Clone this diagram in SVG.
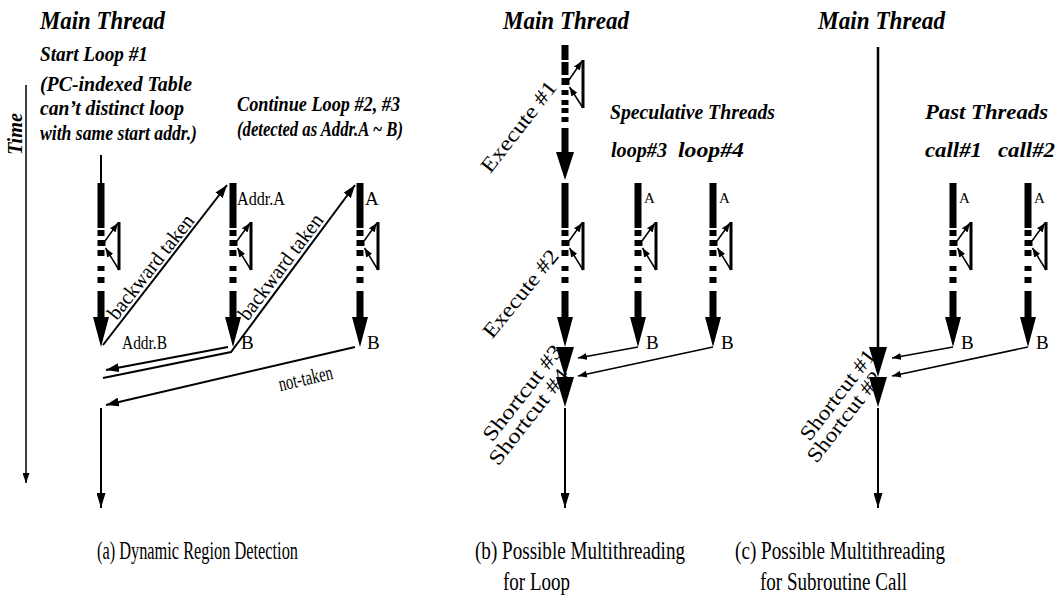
<svg xmlns="http://www.w3.org/2000/svg" xmlns:xlink="http://www.w3.org/1999/xlink" width="1062" height="600" viewBox="0 0 1062 600">
<style>
.t{font-family:"Liberation Serif","Times New Roman",serif;font-weight:bold;font-style:italic;font-size:25px;fill:#000}
.s{font-family:"Liberation Serif","Times New Roman",serif;font-weight:bold;font-style:italic;font-size:22px;fill:#000}
.l{font-family:"Liberation Serif","Times New Roman",serif;font-size:19px;fill:#000}
.la{font-family:"Liberation Serif","Times New Roman",serif;font-size:15px;fill:#000}
.r{font-family:"Liberation Serif","Times New Roman",serif;font-size:21px;fill:#000}
.c{font-family:"Liberation Serif","Times New Roman",serif;font-size:25px;fill:#000}
.big{fill:none;stroke:#000;stroke-width:2}
.sm{fill:none;stroke:#000;stroke-width:1.5}
.bar{fill:#000}
.tri{stroke:#000;stroke-width:3}
</style>
<defs>
<marker id="mBig" markerUnits="userSpaceOnUse" markerWidth="14" markerHeight="9" refX="13" refY="4.5" orient="auto"><path d="M0,0 L13,4.5 L0,9 z" fill="#000"/></marker>
<marker id="mSm" markerUnits="userSpaceOnUse" markerWidth="10" markerHeight="7" refX="9" refY="3.5" orient="auto"><path d="M0,0 L9,3.5 L0,7 z" fill="#000"/></marker>
<marker id="mDown" markerUnits="userSpaceOnUse" markerWidth="16" markerHeight="9" refX="15" refY="4.5" orient="auto"><path d="M0,0 L15,4.5 L0,9 z" fill="#000"/></marker>
<marker id="mTime" markerUnits="userSpaceOnUse" markerWidth="11" markerHeight="7" refX="10" refY="3.5" orient="auto"><path d="M0,0 L10,3.5 L0,7 z" fill="#000"/></marker>
<g id="lt">
<rect class="bar" x="-3.5" y="0" width="7" height="45"/>
<rect class="bar" x="-3.5" y="47" width="7" height="6"/>
<rect class="bar" x="-3.5" y="57" width="8" height="6"/>
<rect class="bar" x="-3.5" y="67" width="7" height="6"/>
<rect class="bar" x="-3.5" y="83" width="7" height="5"/>
<rect class="bar" x="-3.5" y="94" width="7" height="6"/>
<rect class="bar" x="-3.5" y="108" width="7" height="27"/>
<path class="bar" d="M-8,134 L8,134 L0,164 z"/>
<line class="tri" x1="18" y1="39" x2="18" y2="87"/>
<line class="sm" x1="4" y1="58" x2="17" y2="40" marker-end="url(#mSm)"/>
<line class="sm" x1="18" y1="87" x2="4.5" y2="65" marker-end="url(#mSm)"/>
</g>
<path id="tip" class="bar" d="M-9,0 L9,0 L0,30 z"/>
</defs>
<rect width="1062" height="600" fill="#fff"/>

<!-- Panel (a) -->
<g id="time-axis">
<line class="sm" x1="26" y1="85" x2="26" y2="483" marker-end="url(#mTime)"/>
<text class="s" font-size="18" transform="translate(22,134) rotate(-90)" text-anchor="middle" textLength="42" lengthAdjust="spacingAndGlyphs">Time</text>
</g>
<g id="a-title">
<text class="t" x="40" y="29" textLength="125" lengthAdjust="spacingAndGlyphs">Main Thread</text>
<text class="s" x="40" y="61" textLength="108" lengthAdjust="spacingAndGlyphs">Start Loop #1</text>
<text class="s" x="40" y="91" textLength="152" lengthAdjust="spacingAndGlyphs">(PC-indexed Table</text>
<text class="s" x="40" y="115" textLength="144" lengthAdjust="spacingAndGlyphs">can’t distinct loop</text>
<text class="s" x="40" y="140" textLength="157" lengthAdjust="spacingAndGlyphs">with same start addr.)</text>
<text class="s" x="237" y="111" textLength="163" lengthAdjust="spacingAndGlyphs">Continue Loop #2, #3</text>
<text class="s" x="237" y="136" textLength="166" lengthAdjust="spacingAndGlyphs">(detected as Addr.A ~ B)</text>
</g>
<g id="a-thread1" transform="translate(101,183)"><use xlink:href="#lt" href="#lt"/></g>
<g id="a-thread2" transform="translate(233,183)"><use xlink:href="#lt" href="#lt"/></g>
<g id="a-thread3" transform="translate(360,183)"><use xlink:href="#lt" href="#lt"/></g>
<g id="a-labels">
<text class="l" x="237" y="205" textLength="48" lengthAdjust="spacingAndGlyphs">Addr.A</text>
<text class="l" x="365" y="205">A</text>
<text class="l" x="122" y="349" textLength="45" lengthAdjust="spacingAndGlyphs">Addr.B</text>
<text class="l" x="241" y="349">B</text>
<text class="l" x="367" y="349">B</text>
</g>

<!-- Panel (b) -->
<g id="b-title">
<text class="t" x="503" y="29" textLength="126" lengthAdjust="spacingAndGlyphs">Main Thread</text>
<text class="s" x="610" y="119" textLength="165" lengthAdjust="spacingAndGlyphs">Speculative Threads</text>
<text class="s" x="611" y="157" textLength="56" lengthAdjust="spacingAndGlyphs">loop#3</text>
<text class="s" x="678" y="157" textLength="66" lengthAdjust="spacingAndGlyphs">loop#4</text>
</g>
<g id="b-main">
<rect class="bar" x="561.5" y="45" width="7" height="15"/>
<rect class="bar" x="561.5" y="62" width="7" height="13"/>
<rect class="bar" x="561.5" y="78" width="8" height="7"/>
<rect class="bar" x="561.5" y="90" width="7" height="5"/>
<rect class="bar" x="561.5" y="100" width="7" height="5"/>
<rect class="bar" x="561.5" y="108" width="7" height="5"/>
<rect class="bar" x="561.5" y="117" width="7" height="5"/>
<rect class="bar" x="561.5" y="128" width="7" height="25"/>
<path class="bar" d="M556,152 L574,152 L565,180 z"/>
<line class="tri" x1="583" y1="60" x2="583" y2="108"/>
<line class="sm" x1="569" y1="80" x2="582" y2="61" marker-end="url(#mSm)"/>
<line class="sm" x1="583" y1="108" x2="569.5" y2="87" marker-end="url(#mSm)"/>
<g transform="translate(565,183)"><use xlink:href="#lt" href="#lt"/></g>
<use xlink:href="#tip" href="#tip" x="565" y="347"/>
<use xlink:href="#tip" href="#tip" x="565" y="377"/>
<line class="big" x1="565" y1="408" x2="565" y2="508" marker-end="url(#mDown)"/>
</g>
<g id="b-spec3" transform="translate(638,183)"><use xlink:href="#lt" href="#lt"/></g>
<g id="b-spec4" transform="translate(713,183)"><use xlink:href="#lt" href="#lt"/></g>
<g id="b-labels">
<text class="la" x="644" y="203">A</text>
<text class="la" x="719" y="203">A</text>
<text class="l" x="646" y="349">B</text>
<text class="l" x="721" y="349">B</text>
<text class="r" transform="translate(524,131) rotate(-52)" text-anchor="middle" textLength="110" lengthAdjust="spacingAndGlyphs">Execute #1</text>
<text class="r" transform="translate(526,298) rotate(-51)" text-anchor="middle" textLength="107" lengthAdjust="spacingAndGlyphs">Execute #2</text>
<text class="r" transform="translate(528,397) rotate(-52)" text-anchor="middle" textLength="116" lengthAdjust="spacingAndGlyphs">Shortcut #3</text>
<text class="r" transform="translate(534,421) rotate(-52)" text-anchor="middle" textLength="116" lengthAdjust="spacingAndGlyphs">Shortcut #4</text>
</g>

<!-- Panel (c) -->
<g id="c-title">
<text class="t" x="818" y="29" textLength="127" lengthAdjust="spacingAndGlyphs">Main Thread</text>
<text class="s" x="925" y="119" textLength="123" lengthAdjust="spacingAndGlyphs">Past Threads</text>
<text class="s" x="925" y="157" textLength="57" lengthAdjust="spacingAndGlyphs">call#1</text>
<text class="s" x="998" y="157" textLength="57" lengthAdjust="spacingAndGlyphs">call#2</text>
</g>
<g id="c-main">
<line x1="878" y1="47" x2="878" y2="348" stroke="#000" stroke-width="2.5"/>
<use xlink:href="#tip" href="#tip" x="878" y="347"/>
<use xlink:href="#tip" href="#tip" x="878" y="377"/>
<line class="big" x1="878" y1="408" x2="878" y2="508" marker-end="url(#mDown)"/>
</g>
<g id="c-call1" transform="translate(953,183)"><use xlink:href="#lt" href="#lt"/></g>
<g id="c-call2" transform="translate(1028,183)"><use xlink:href="#lt" href="#lt"/></g>
<g id="c-labels">
<text class="la" x="959" y="203">A</text>
<text class="la" x="1034" y="203">A</text>
<text class="l" x="961" y="349">B</text>
<text class="l" x="1036" y="349">B</text>
<text class="r" transform="translate(843,399) rotate(-52)" text-anchor="middle" textLength="109" lengthAdjust="spacingAndGlyphs">Shortcut #1</text>
<text class="r" transform="translate(850,421) rotate(-52)" text-anchor="middle" textLength="109" lengthAdjust="spacingAndGlyphs">Shortcut #2</text>
</g>

<!-- Connectors -->
<g id="connectors">
<line class="big" x1="101" y1="155" x2="101" y2="183"/>
<line class="big" x1="103" y1="345" x2="227" y2="185" marker-end="url(#mBig)"/>
<line class="big" x1="228" y1="347" x2="106" y2="370" marker-end="url(#mBig)"/>
<polyline class="big" points="103,378 231,352 355,185" marker-end="url(#mBig)"/>
<line class="big" x1="355" y1="347" x2="106" y2="405" marker-end="url(#mBig)"/>
<line class="big" x1="101" y1="408" x2="101" y2="508" marker-end="url(#mDown)"/>
<line class="sm" x1="638" y1="347" x2="578" y2="358" marker-end="url(#mSm)"/>
<line class="sm" x1="713" y1="347" x2="578" y2="376" marker-end="url(#mSm)"/>
<line class="sm" x1="953" y1="347" x2="892" y2="358" marker-end="url(#mSm)"/>
<line class="sm" x1="1028" y1="347" x2="892" y2="376" marker-end="url(#mSm)"/>
<text class="r" transform="translate(156,271) rotate(-52)" text-anchor="middle" textLength="127" lengthAdjust="spacingAndGlyphs">backward taken</text>
<text class="r" transform="translate(286,271) rotate(-53)" text-anchor="middle" textLength="127" lengthAdjust="spacingAndGlyphs">backward taken</text>
<text class="r" transform="translate(307,385) rotate(-13)" text-anchor="middle" textLength="55" lengthAdjust="spacingAndGlyphs">not-taken</text>
</g>

<!-- Captions -->
<g id="captions">
<text class="c" x="97" y="559" textLength="201" lengthAdjust="spacingAndGlyphs">(a) Dynamic Region Detection</text>
<text class="c" x="475" y="559" textLength="210" lengthAdjust="spacingAndGlyphs">(b) Possible Multithreading</text>
<text class="c" x="503" y="590" textLength="67" lengthAdjust="spacingAndGlyphs">for Loop</text>
<text class="c" x="735" y="559" textLength="210" lengthAdjust="spacingAndGlyphs">(c) Possible Multithreading</text>
<text class="c" x="760" y="590" textLength="147" lengthAdjust="spacingAndGlyphs">for Subroutine Call</text>
</g>
</svg>
